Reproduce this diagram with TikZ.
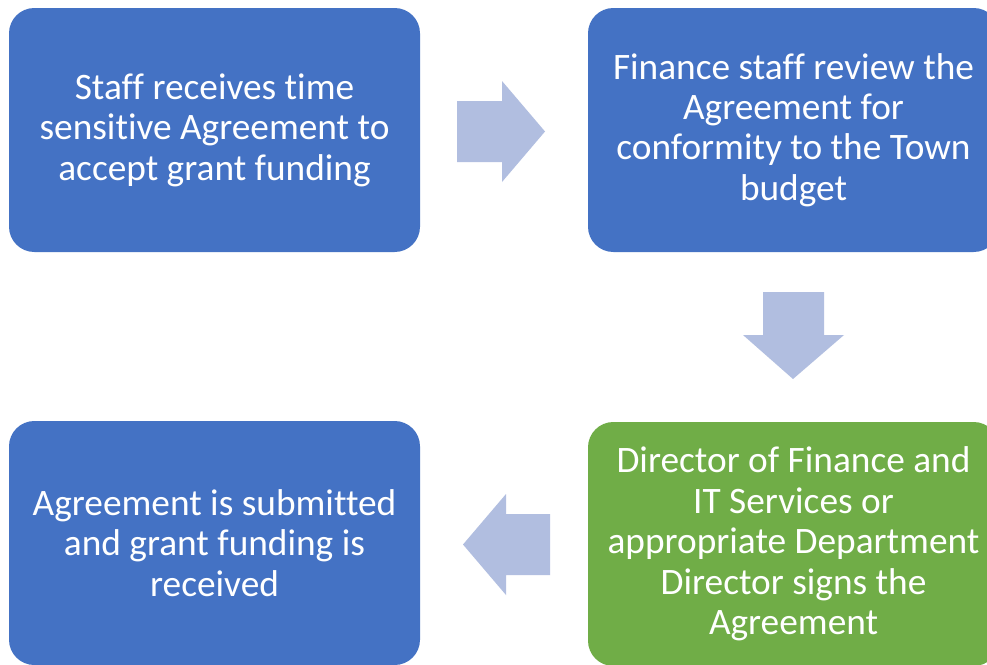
\documentclass[tikz,border=0pt]{standalone}
\usepackage{fontspec}
\setmainfont[Ligatures=NoCommon]{Carlito}
\definecolor{boxblue}{HTML}{4472C4}
\definecolor{boxgreen}{HTML}{70AD47}
\definecolor{arrowblue}{HTML}{B1BEE0}
\tikzset{
  stepbox/.style={fill=#1, draw=none, rounded corners=19pt, minimum width=308.25pt, minimum height=183pt,
    text=white, align=center, font=\fontsize{28pt}{30.3pt}\selectfont, inner sep=0pt},
  flowarrow/.style={fill=arrowblue, draw=none}
}
\begin{document}
\begin{tikzpicture}[x=0.75pt,y=-0.75pt]
\useasboundingbox (0,0) rectangle (987,664);
\clip (0,0) rectangle (987,664);
\fill[white] (0,0) rectangle (987,664);
\node[stepbox=boxblue] (b1) at (214.5,130) {Staff receives time\\sensitive Agreement to\\accept grant funding};
\node[stepbox=boxblue] (b2) at (793.5,130) {Finance staff review the\\Agreement for\\conformity to the Town\\budget};
\node[stepbox=boxgreen] (b3) at (793.5,544) {Director of Finance and\\IT Services or\\appropriate Department\\Director signs the\\Agreement};
\node[stepbox=boxblue] (b4) at (214.5,543) {Agreement is submitted\\and grant funding is\\received};
% right arrow b1 -> b2
\fill[flowarrow] (457,101) -- (502,101) -- (502,81) -- (545,131.5) -- (502,182) -- (502,162) -- (457,162) -- cycle;
% down arrow b2 -> b3
\fill[flowarrow] (763,292) -- (824,292) -- (824,335) -- (844,335) -- (793,379) -- (743,335) -- (763,335) -- cycle;
% left arrow b3 -> b4
\fill[flowarrow] (550,514) -- (506,514) -- (506,494) -- (463,544.5) -- (506,595) -- (506,575) -- (550,575) -- cycle;
\end{tikzpicture}
\end{document}
